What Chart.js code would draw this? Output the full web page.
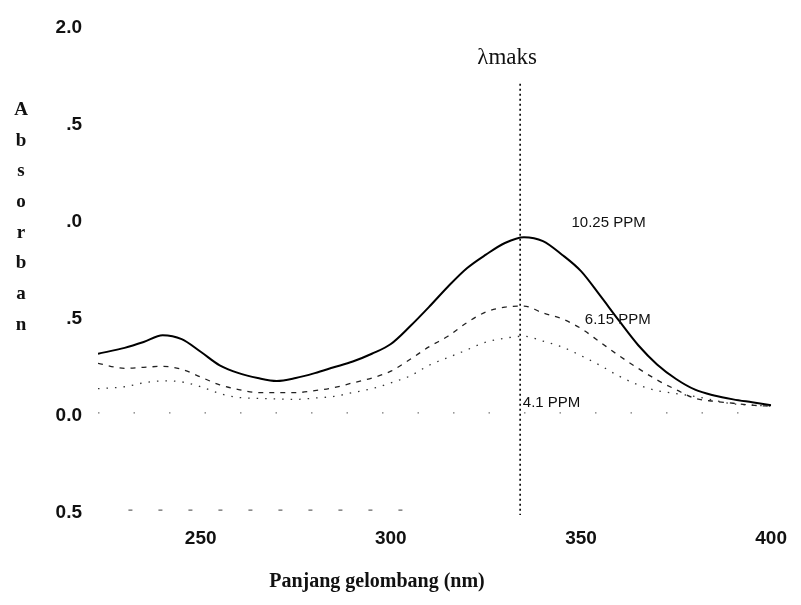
<!DOCTYPE html>
<html>
<head>
<meta charset="utf-8">
<script src="https://cdn.jsdelivr.net/npm/chart.js@4.4.1/dist/chart.umd.min.js"></script>
<style>
    html, body { margin: 0; padding: 0; background: #fff; }
    #wrap { width: 801px; height: 605px; }
</style>
</head>
<body>
<div id="wrap"><canvas id="spectrumChart" width="801" height="605"></canvas></div>
<script>
// wavelength (nm)
const wavelengths = [223, 230, 235, 240, 245, 250, 255, 260, 265, 270, 275, 280, 285, 290, 295, 300,
    305, 310, 315, 320, 325, 330, 335, 340, 345, 350, 355, 360, 365, 370, 375, 380, 385, 390, 395, 400];

// absorbance per concentration
const abs1025 = [0.32, 0.35, 0.38, 0.415, 0.395, 0.33, 0.26, 0.22, 0.195, 0.18, 0.195, 0.22, 0.25, 0.28, 0.32, 0.37,
    0.46, 0.56, 0.665, 0.76, 0.83, 0.89, 0.92, 0.90, 0.83, 0.745, 0.62, 0.49, 0.365, 0.265, 0.19, 0.135, 0.105, 0.085, 0.07, 0.055];
const abs615 = [0.27, 0.245, 0.25, 0.255, 0.24, 0.20, 0.16, 0.135, 0.12, 0.12, 0.12, 0.13, 0.145, 0.17, 0.195, 0.23,
    0.29, 0.355, 0.41, 0.48, 0.535, 0.56, 0.565, 0.53, 0.50, 0.45, 0.38, 0.31, 0.245, 0.185, 0.135, 0.09, 0.075, 0.065, 0.055, 0.05];
const abs41 = [0.14, 0.15, 0.17, 0.18, 0.175, 0.15, 0.115, 0.095, 0.09, 0.087, 0.085, 0.092, 0.10, 0.12, 0.14, 0.17,
    0.205, 0.26, 0.30, 0.34, 0.38, 0.40, 0.41, 0.385, 0.355, 0.31, 0.26, 0.205, 0.16, 0.13, 0.115, 0.10, 0.08, 0.062, 0.055, 0.05];
// blank baseline (faint dots near zero)
const blankAbs = [0.015, 0.015, 0.015, 0.015, 0.015, 0.015, 0.015, 0.015, 0.015, 0.015, 0.015, 0.015, 0.015, 0.015, 0.015, 0.015,
    0.015, 0.015, 0.015, 0.015, 0.015, 0.015, 0.015, 0.015, 0.015, 0.015, 0.015, 0.015, 0.015, 0.015, 0.015, 0.015, 0.015, 0.015, 0.015, 0.015];
// stray trace near -0.5
const strayWl = [231, 307];
const strayAbs = [-0.485, -0.485];

const lambdaMax = 334;
const lambdaSpan = [1.71, -0.51];

const seriesNames = ['10.25 PPM', '6.15 PPM', '4.1 PPM'];
const xTicks = [250, 300, 350, 400];
const yTicks = [-0.5, 0, 0.5, 1.0, 1.5, 2.0];
const yTickLabels = ['0.5', '0.0', '.5', '.0', '.5', '2.0'];
const xTitle = 'Panjang gelombang (nm)';
const yTitle = 'Absorban';
const lambdaLabel = '\u03bbmaks';

function pts(xs, ys) {
    return xs.map((x, i) => ({ x: x, y: ys[i] }));
}

// text drawn on top: axis titles, lambda label, series labels
const textPlugin = {
    id: 'spectrumText',
    afterDraw(chart) {
        const ctx = chart.ctx;
        const xs = chart.scales.x;
        const ys = chart.scales.y;
        ctx.save();
        ctx.fillStyle = '#111';

        // stacked y title
        ctx.font = 'bold 19px "Liberation Serif", serif';
        ctx.textAlign = 'center';
        ctx.textBaseline = 'middle';
        yTitle.split('').forEach((ch, i) => {
            ctx.fillText(ch, 21, 110 + i * 30.7);
        });

        // x title
        ctx.font = 'bold 20px "Liberation Serif", serif';
        ctx.fillText(xTitle, 377, 582);

        // lambda max label
        ctx.font = '23px "Liberation Serif", "DejaVu Serif", serif';
        ctx.fillText(lambdaLabel, xs.getPixelForValue(lambdaMax) - 13, 58);

        // series labels
        ctx.font = '15px "Liberation Sans", Arial, sans-serif';
        ctx.textAlign = 'left';
        ctx.fillText(seriesNames[0], xs.getPixelForValue(347.5), ys.getPixelForValue(0.995));
        ctx.fillText(seriesNames[1], xs.getPixelForValue(351), ys.getPixelForValue(0.495));
        ctx.fillText(seriesNames[2], xs.getPixelForValue(334.7), ys.getPixelForValue(0.066));
        ctx.restore();
    }
};

const ctx = document.getElementById('spectrumChart').getContext('2d');
new Chart(ctx, {
    type: 'line',
    data: {
        datasets: [
            {
                label: seriesNames[0],
                data: pts(wavelengths, abs1025),
                borderColor: '#000',
                borderWidth: 2,
                cubicInterpolationMode: 'monotone'
            },
            {
                label: seriesNames[1],
                data: pts(wavelengths, abs615),
                borderColor: '#222',
                borderWidth: 1.3,
                borderDash: [5, 6],
                cubicInterpolationMode: 'monotone'
            },
            {
                label: seriesNames[2],
                data: pts(wavelengths, abs41),
                borderColor: '#333',
                borderWidth: 1.3,
                borderDash: [1.5, 7],
                cubicInterpolationMode: 'monotone'
            },
            {
                label: 'blank',
                data: pts(wavelengths, blankAbs),
                borderColor: '#777',
                borderWidth: 1.2,
                borderDash: [1.5, 34]
            },
            {
                label: 'stray',
                data: pts(strayWl, strayAbs),
                borderColor: '#666',
                borderWidth: 1.1,
                borderDash: [4, 26],
                clip: false
            },
            {
                label: 'lambda max',
                data: pts([lambdaMax, lambdaMax], lambdaSpan),
                borderColor: '#000',
                borderWidth: 1.6,
                borderDash: [2, 3],
                clip: false
            }
        ]
    },
    options: {
        responsive: false,
        devicePixelRatio: 1,
        animation: false,
        layout: {
            padding: { left: 0, right: 24, top: 23, bottom: 0 }
        },
        elements: {
            point: { radius: 0 },
            line: { fill: false }
        },
        plugins: {
            legend: { display: false },
            tooltip: { enabled: false }
        },
        scales: {
            x: {
                type: 'linear',
                min: 223,
                max: 400,
                afterFit: (s) => { s.height = 92; },
                afterBuildTicks: (s) => { s.ticks = xTicks.map(v => ({ value: v })); },
                grid: { display: false, drawTicks: false },
                border: { display: false },
                ticks: {
                    padding: 14,
                    maxRotation: 0,
                    color: '#111',
                    font: { family: '"Liberation Sans", Arial, sans-serif', weight: 'bold', size: 19 }
                }
            },
            y: {
                min: -0.5,
                max: 2.0,
                afterFit: (s) => { s.width = 98; },
                afterBuildTicks: (s) => { s.ticks = yTicks.map(v => ({ value: v })); },
                grid: { display: false, drawTicks: false },
                border: { display: false },
                ticks: {
                    padding: 16,
                    color: '#111',
                    font: { family: '"Liberation Sans", Arial, sans-serif', weight: 'bold', size: 19 },
                    callback: (v) => yTickLabels[yTicks.indexOf(v)]
                }
            }
        }
    },
    plugins: [textPlugin]
});
</script>
</body>
</html>
